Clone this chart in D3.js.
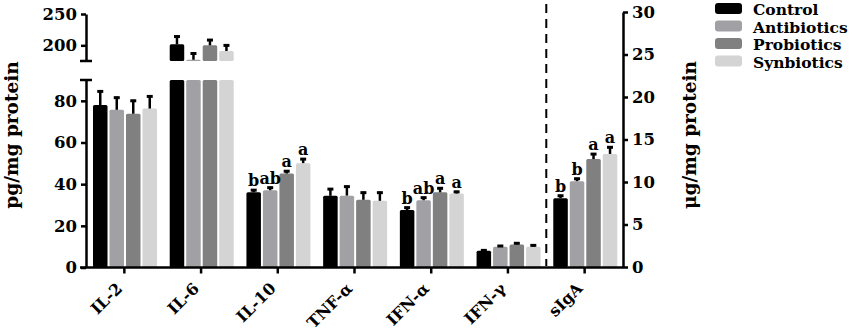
<!DOCTYPE html>
<html>
<head>
<meta charset="utf-8">
<script src="https://cdn.jsdelivr.net/npm/d3@7"></script>
<style>
  body { margin: 0; background: #fff; }
  svg text { font-family: "DejaVu Serif", serif; font-weight: bold; fill: #000; }
</style>
</head>
<body>
<div id="chart"></div>
<script>
// categories and groups
const categories = ["IL-2", "IL-6", "IL-10", "TNF-α", "IFN-α", "IFN-γ", "sIgA"];
const groups = ["Control", "Antibiotics", "Probiotics", "Synbiotics"];
const groupColors = ["#000000", "#a1a1a5", "#808080", "#d4d4d4"];

// means (pg/mg protein, sIgA in μg/mg protein)
const control     = [78.0, 201.6, 36.1, 34.4, 27.6, 8.1, 8.1];
const antibiotics = [75.7, 177.0, 37.1, 34.5, 32.3, 10.0, 10.1];
const probiotics  = [73.8, 200.0, 45.1, 32.5, 36.1, 11.1, 12.7];
const synbiotics  = [76.3, 191.0, 50.1, 32.0, 35.5, 10.0, 13.3];

// standard errors
const controlErr     = [7.0, 14.0, 1.5, 3.7, 1.6, 0.6, 0.4];
const antibioticsErr = [6.3, 11.6, 1.7, 4.8, 1.7, 0.8, 0.4];
const probioticsErr  = [6.7, 10.0, 1.6, 3.9, 2.4, 1.0, 0.7];
const synbioticsErr  = [6.3, 10.5, 2.4, 4.4, 1.3, 1.1, 0.9];

// significance letters
const controlSig     = ["", "", "b", "", "b", "", "b"];
const antibioticsSig = ["", "", "ab", "", "ab", "", "b"];
const probioticsSig  = ["", "", "a", "", "a", "", "a"];
const synbioticsSig  = ["", "", "a", "", "a", "", "a"];

const leftTicksLow = [0, 20, 40, 60, 80];
const leftTicksHigh = [200, 250];
const rightTicks = [0, 5, 10, 15, 20, 25, 30];

const means = [control, antibiotics, probiotics, synbiotics];
const errs = [controlErr, antibioticsErr, probioticsErr, synbioticsErr];
const sigs = [controlSig, antibioticsSig, probioticsSig, synbioticsSig];

const width = 852, height = 331;

const svg = d3.select("#chart").append("svg")
  .attr("width", width)
  .attr("height", height);

// scales
const x0 = d3.scaleBand().domain(categories).range([86, 623]).padding(0);
const x1 = d3.scaleBand().domain(groups).range([7, 71]).paddingInner(0.12);
const yLow = d3.scaleLinear().domain([0, 90]).range([267.5, 80]);
const yHigh = d3.scaleLinear().domain([175, 250]).range([61, 14]);
const yRight = d3.scaleLinear().domain([0, 30]).range([267, 12]);

// flatten data
const rows = [];
categories.forEach((c, ci) => {
  groups.forEach((g, gi) => {
    rows.push({
      cat: c, group: g, gi: gi,
      value: means[gi][ci], err: errs[gi][ci], sig: sigs[gi][ci],
      right: c === "sIgA"
    });
  });
});

const bars = svg.append("g");
const errG = svg.append("g");
const bw = x1.bandwidth();

rows.forEach(d => {
  const bx = x0(d.cat) + x1(d.group);
  const fill = groupColors[d.gi];
  let topY, errY;
  if (d.right) {
    bars.append("rect")
      .attr("x", bx).attr("width", bw)
      .attr("y", yRight(d.value)).attr("height", yRight(0) - yRight(d.value))
      .attr("fill", fill).attr("rx", 1.5);
    topY = yRight(d.value);
    errY = yRight(d.value + d.err);
  } else {
    const lowV = Math.min(d.value, 90);
    bars.append("rect")
      .attr("x", bx).attr("width", bw)
      .attr("y", yLow(lowV)).attr("height", yLow(0) - yLow(lowV))
      .attr("fill", fill).attr("rx", 1.5);
    if (d.value > 175) {
      bars.append("rect")
        .attr("x", bx).attr("width", bw)
        .attr("y", yHigh(d.value)).attr("height", yHigh(175) - yHigh(d.value))
        .attr("fill", fill).attr("rx", 1.5);
      topY = yHigh(d.value);
      errY = yHigh(d.value + d.err);
    } else {
      topY = yLow(d.value);
      errY = yLow(d.value + d.err);
    }
  }
  const cx = bx + bw / 2;
  // error bar stem + cap
  errG.append("line")
    .attr("x1", cx).attr("x2", cx)
    .attr("y1", topY).attr("y2", errY)
    .attr("stroke", "#000").attr("stroke-width", 2.5);
  errG.append("line")
    .attr("x1", cx - 3).attr("x2", cx + 3)
    .attr("y1", errY + 1).attr("y2", errY + 1)
    .attr("stroke", "#000").attr("stroke-width", 3);
  if (d.sig) {
    errG.append("text")
      .attr("x", cx).attr("y", errY - 3)
      .attr("text-anchor", "middle")
      .style("font-size", "16px")
      .text(d.sig);
  }
});

// axes
function styleAxis(g) {
  g.selectAll(".domain").attr("stroke", "#000").attr("stroke-width", 2.5);
  g.selectAll(".tick line").attr("stroke", "#000").attr("stroke-width", 2.5);
  g.selectAll(".tick text").style("font-size", "16.5px").style("font-family", "DejaVu Serif, serif");
}

svg.append("g")
  .attr("transform", "translate(86,0)")
  .call(d3.axisLeft(yLow).tickValues(leftTicksLow).tickSize(5).tickSizeOuter(0).tickPadding(4))
  .call(styleAxis);

svg.append("g")
  .attr("transform", "translate(86,0)")
  .call(d3.axisLeft(yHigh).tickValues(leftTicksHigh).tickSize(5).tickSizeOuter(0).tickPadding(4))
  .call(styleAxis);

// break stubs
[yHigh(175), yLow(90)].forEach(yy => {
  svg.append("line")
    .attr("x1", 80).attr("x2", 92)
    .attr("y1", yy).attr("y2", yy)
    .attr("stroke", "#000").attr("stroke-width", 2.5);
});

svg.append("g")
  .attr("transform", "translate(623,0)")
  .call(d3.axisRight(yRight).tickValues(rightTicks).tickSize(5).tickSizeOuter(0).tickPadding(4))
  .call(styleAxis);

const xAxis = svg.append("g")
  .attr("transform", `translate(0,${yLow(0)})`)
  .call(d3.axisBottom(x0).tickSize(6).tickSizeOuter(0).tickPadding(4))
  .call(styleAxis);
xAxis.select(".domain").attr("d", `M80,0H623`);
xAxis.selectAll(".tick text")
  .style("font-size", "16px")
  .attr("text-anchor", "end")
  .attr("dy", null)
  .attr("y", 0)
  .attr("transform", "translate(-1,22) rotate(-45)");

// dashed separator
const sepX = x0("sIgA");
svg.append("line")
  .attr("x1", sepX).attr("x2", sepX)
  .attr("y1", 4).attr("y2", 266)
  .attr("stroke", "#000").attr("stroke-width", 2)
  .attr("stroke-dasharray", "9,6");

// axis titles
svg.append("text")
  .attr("transform", "translate(18,135) rotate(-90)")
  .attr("text-anchor", "middle")
  .style("font-size", "18.5px")
  .text("pg/mg protein");

svg.append("text")
  .attr("transform", "translate(696,135) rotate(-90)")
  .attr("text-anchor", "middle")
  .style("font-size", "18.5px")
  .text("μg/mg protein");

// legend
const legend = svg.append("g").attr("transform", "translate(715,3)");
groups.forEach((g, i) => {
  const row = legend.append("g").attr("transform", `translate(0,${i * 17.5})`);
  row.append("rect")
    .attr("width", 27).attr("height", 11).attr("rx", 3)
    .attr("fill", groupColors[i]);
  row.append("text")
    .attr("x", 38).attr("y", 12)
    .style("font-size", "15.5px")
    .text(g);
});
</script>
</body>
</html>
